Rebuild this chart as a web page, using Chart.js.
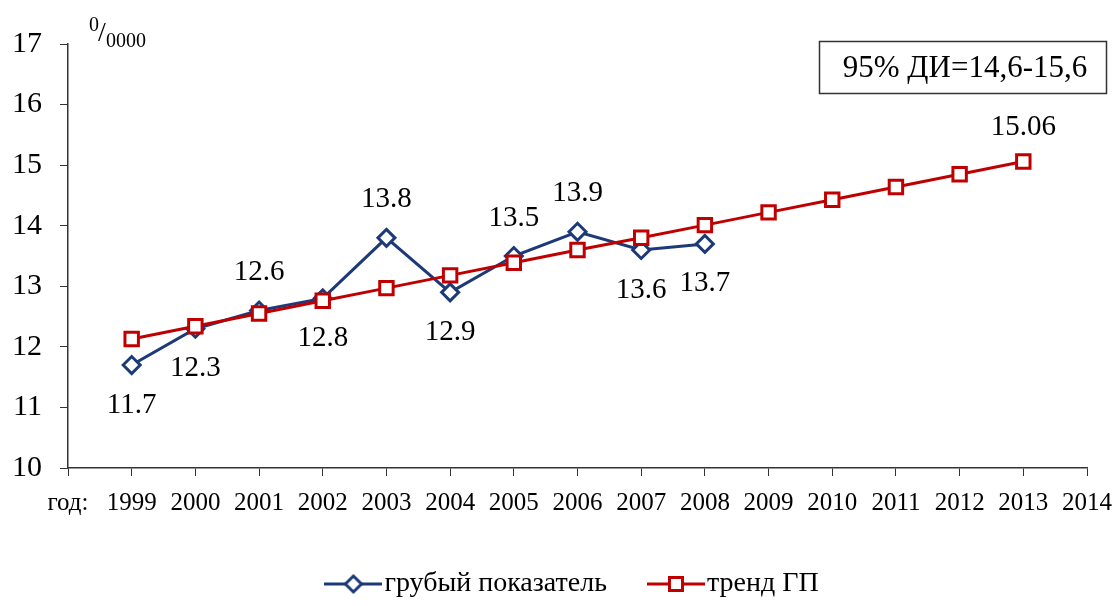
<!DOCTYPE html>
<html lang="ru">
<head>
<meta charset="utf-8">
<title>грубый показатель и тренд ГП</title>
<script src="https://cdn.jsdelivr.net/npm/chart.js@4.4.0/dist/chart.umd.min.js"></script>
<style>
  html, body { margin: 0; padding: 0; background: #fff; }
  #caja-grafico { width: 1119px; height: 606px; position: relative; }
</style>
</head>
<body>
<div id="caja-grafico"><canvas id="area-grafico"></canvas></div>
<script>
// etiquetas del eje x (la primera va pegada al eje y)
const etiquetasEje = ['год:', '1999', '2000', '2001', '2002', '2003', '2004', '2005', '2006',
  '2007', '2008', '2009', '2010', '2011', '2012', '2013', '2014'];
const anosGrubyi = ['1999', '2000', '2001', '2002', '2003', '2004', '2005', '2006', '2007', '2008'];
const valoresGrubyi = [11.7, 12.3, 12.6, 12.8, 13.8, 12.9, 13.5, 13.9, 13.6, 13.7];
const anosTrend = ['1999', '2000', '2001', '2002', '2003', '2004', '2005', '2006', '2007',
  '2008', '2009', '2010', '2011', '2012', '2013'];
const valoresTrend = [12.13, 12.34, 12.55, 12.76, 12.97, 13.18, 13.39, 13.60, 13.80,
  14.01, 14.22, 14.43, 14.64, 14.85, 15.06];
const ticksY = [10, 11, 12, 13, 14, 15, 16, 17];
const nombreGrubyi = 'грубый показатель';
const nombreTrend = 'тренд ГП';
const textoIntervalo = '95% ДИ=14,6-15,6';

// donde va cada numero respecto a su punto
const ladoEtiqueta = ['abajo', 'abajo', 'arriba', 'abajo', 'arriba', 'abajo', 'arriba', 'arriba', 'abajo', 'abajo'];

const azul = '#1c3a78';
const rojo = '#c00000';
const fuente = '"Liberation Serif", "Times New Roman", serif';

const crearMarcador = (estilo, color, radio) => {
  const lienzo = document.createElement('canvas');
  lienzo.width = 58;
  lienzo.height = 26;
  const c = lienzo.getContext('2d');
  c.strokeStyle = color;
  c.lineWidth = 3;
  c.beginPath();
  c.moveTo(0, 13);
  c.lineTo(58, 13);
  c.stroke();
  c.fillStyle = '#fff';
  c.beginPath();
  if (estilo === 'rombo') {
    c.moveTo(29 - radio, 13);
    c.lineTo(29, 13 - radio);
    c.lineTo(29 + radio, 13);
    c.lineTo(29, 13 + radio);
    c.closePath();
  } else {
    c.rect(29 - radio, 13 - radio, radio * 2, radio * 2);
  }
  c.fill();
  c.stroke();
  return lienzo;
};

const marcadores = [crearMarcador('rombo', azul, 8), crearMarcador('cuadro', rojo, 6.5)];

const etiquetasDatos = {
  id: 'etiquetasDatos',
  afterDatasetsDraw(chart) {
    const ctx = chart.ctx;
    ctx.save();
    ctx.font = '29px ' + fuente;
    ctx.fillStyle = '#000';
    ctx.textAlign = 'center';
    ctx.textBaseline = 'middle';
    chart.getDatasetMeta(0).data.forEach((punto, i) => {
      const dy = ladoEtiqueta[i] === 'arriba' ? -38 : 40;
      ctx.fillText(valoresGrubyi[i].toFixed(1), punto.x, punto.y + dy);
    });
    const puntosTrend = chart.getDatasetMeta(1).data;
    const ultimo = puntosTrend[puntosTrend.length - 1];
    ctx.fillText(valoresTrend[valoresTrend.length - 1].toFixed(2), ultimo.x, ultimo.y - 34);
    ctx.restore();
  }
};

const extras = {
  id: 'extras',
  afterDraw(chart) {
    const ctx = chart.ctx;
    ctx.save();
    ctx.fillStyle = '#000';
    // unidad: 0/0000
    ctx.textBaseline = 'alphabetic';
    ctx.textAlign = 'left';
    ctx.font = '20px ' + fuente;
    ctx.fillText('0', 89, 31);
    ctx.font = '28px ' + fuente;
    ctx.fillText('/', 98, 41);
    ctx.font = '20px ' + fuente;
    ctx.fillText('0000', 106, 47);
    // recuadro del intervalo
    ctx.strokeStyle = '#333';
    ctx.lineWidth = 1.5;
    ctx.strokeRect(819.5, 41.5, 287, 52);
    ctx.font = '31px ' + fuente;
    ctx.textAlign = 'center';
    ctx.textBaseline = 'middle';
    ctx.fillText(textoIntervalo, 965, 69);
    ctx.restore();
  }
};

// la leyenda usa padding grande para separar items, le recorto la altura
const alturaLeyenda = {
  id: 'alturaLeyenda',
  beforeLayout(chart) {
    const leyenda = chart.legend;
    if (leyenda && !leyenda._parcheada) {
      const fitOriginal = leyenda.fit;
      leyenda.fit = function () {
        fitOriginal.call(this);
        this.height = 88;
      };
      leyenda._parcheada = true;
    }
  }
};

const grapharea = document.getElementById('area-grafico');

const config = {
  type: 'line',
  data: {
    labels: etiquetasEje,
    datasets: [
      {
        label: nombreGrubyi,
        data: anosGrubyi.map((ano, i) => ({ x: ano, y: valoresGrubyi[i] })),
        borderColor: azul,
        borderWidth: 3,
        pointStyle: 'rectRot',
        pointRadius: 8.5,
        pointBorderWidth: 3,
        pointBackgroundColor: '#fff',
        pointBorderColor: azul,
        fill: false,
        order: 2
      },
      {
        label: nombreTrend,
        data: anosTrend.map((ano, i) => ({ x: ano, y: valoresTrend[i] })),
        borderColor: rojo,
        borderWidth: 3,
        pointStyle: 'rect',
        pointRadius: 9.5,
        pointBorderWidth: 3,
        pointBackgroundColor: '#fff',
        pointBorderColor: rojo,
        fill: false,
        order: 1
      }
    ]
  },
  options: {
    responsive: true,
    maintainAspectRatio: false,
    animation: false,
    layout: { padding: { top: 44, right: 32, left: 0, bottom: 0 } },
    plugins: {
      tooltip: { enabled: false },
      legend: {
        position: 'bottom',
        fullSize: false,
        labels: {
          usePointStyle: true,
          pointStyleWidth: 34,
          padding: 52,
          color: '#000',
          font: { family: fuente, size: 28 },
          sort: (a, b) => a.datasetIndex - b.datasetIndex,
          generateLabels: (chart) => {
            const items = Chart.defaults.plugins.legend.labels.generateLabels(chart);
            items.forEach(item => { item.pointStyle = marcadores[item.datasetIndex]; });
            return items;
          }
        }
      }
    },
    scales: {
      x: {
        type: 'category',
        offset: false,
        afterFit: (eje) => {
          eje.height = 50;
          eje.paddingRight = 32;
        },
        grid: { drawOnChartArea: false, drawTicks: true, tickLength: 8, color: '#333' },
        border: { color: '#333', width: 1.5 },
        ticks: {
          autoSkip: false,
          maxRotation: 0,
          padding: 12,
          color: '#000',
          font: { family: fuente, size: 25 }
        }
      },
      y: {
        min: 10,
        max: 17,
        afterFit: (eje) => { eje.width = 68; },
        afterBuildTicks: (eje) => { eje.ticks = ticksY.map(v => ({ value: v })); },
        grid: { drawOnChartArea: false, drawTicks: true, tickLength: 8, color: '#333' },
        border: { color: '#333', width: 1.5 },
        ticks: {
          padding: 18,
          color: '#000',
          font: { family: fuente, size: 30 }
        }
      }
    }
  },
  plugins: [alturaLeyenda, etiquetasDatos, extras]
};

const myChart = new Chart(grapharea, config);
</script>
</body>
</html>
